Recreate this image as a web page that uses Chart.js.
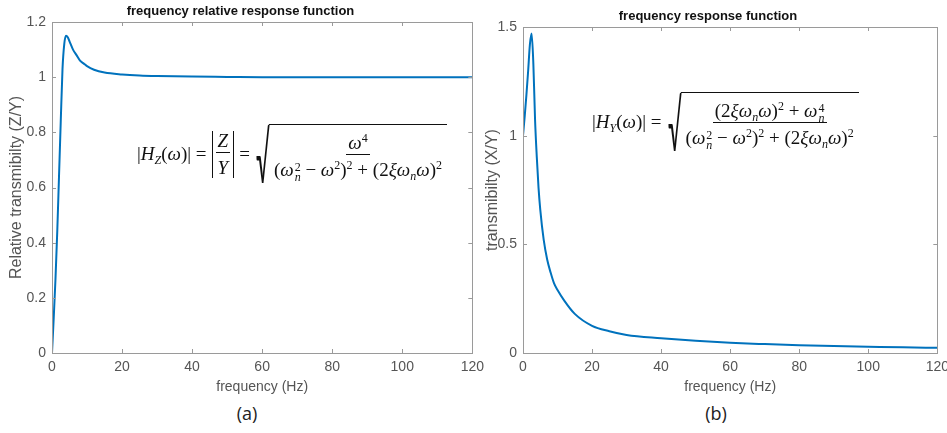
<!DOCTYPE html>
<html>
<head>
<meta charset="utf-8">
<script src="https://cdn.jsdelivr.net/npm/chart.js@4.4.1/dist/chart.umd.min.js"></script>
<style>
  html, body { margin: 0; padding: 0; background: #fff; }
  body { width: 947px; height: 433px; position: relative; overflow: hidden; }
  .box { position: absolute; top: 0; height: 400px; }
  .eq { position: absolute; font-family: "Liberation Serif", "DejaVu Serif", serif; font-size: 19px; color: #111;
        display: flex; align-items: center; white-space: nowrap; }
  .eq i { font-style: italic; }
  .frac { display: inline-flex; flex-direction: column; align-items: center; margin: 0 2px; }
  .frac > span { padding: 0 2px; line-height: 20px; height: 20px; }
  .frac > span:first-child { border-bottom: 1px solid #111; padding-bottom: 1px; }
  .frac > span:last-child { padding-top: 5px; }
  .abs { display: inline-flex; border-left: 1px solid #111; border-right: 1px solid #111; padding: 0 1px; margin: 0 5px; }
  .ss { display: inline-flex; flex-direction: column; font-size: 12px; line-height: 10px; vertical-align: middle; margin-left: 1px; }
  .sub { font-size: 12px; vertical-align: -4px; line-height: 0; }
  .sup { font-size: 12px; vertical-align: 7px; line-height: 0; }
  .root { position: relative; display: inline-flex; padding-left: 13px; margin-left: 6px; }
  .rt { border-top: 1px solid #111; padding: 7px 1px 4px 1px; }
  .rad { position: absolute; left: 0; top: -1px; font-family: "Lato", "DejaVu Sans", sans-serif; font-weight: 400;
         font-size: 40px; line-height: 40px; transform-origin: 0 0; transform: scale(0.55, 1.7); }
  .tag { position: absolute; font-family: "Open Sans", "Liberation Sans", sans-serif; font-size: 18px; color: #222; transform: translate(-50%, -50%); }
</style>
</head>
<body>
<div class="box" style="left:0; width:490px;"><canvas id="chartA"></canvas></div>
<div class="box" style="left:470px; width:485px;"><canvas id="chartB"></canvas></div>

<div class="eq" style="left:137px; top:124px;">
  <span>|<i>H</i><span class="sub"><i>Z</i></span>(<i>ω</i>)| =</span>
  <span class="abs"><span class="frac"><span><i>Z</i></span><span><i>Y</i></span></span></span>
  <span>=</span>
  <span class="root"><span class="rad">√</span><span class="rt"><span class="frac"><span><i>ω</i><span class="sup">4</span></span><span>(<i>ω</i><span class="ss"><span>2</span><i>n</i></span> − <i>ω</i><span class="sup">2</span>)<span class="sup">2</span> + (2<i>ξω</i><span class="sub"><i>n</i></span><i>ω</i>)<span class="sup">2</span></span></span></span></span>
</div>

<div class="eq" style="left:592px; top:92px;">
  <span>|<i>H</i><span class="sub"><i>Y</i></span>(<i>ω</i>)| =</span>
  <span class="root"><span class="rad">√</span><span class="rt"><span class="frac"><span>(2<i>ξω</i><span class="sub"><i>n</i></span><i>ω</i>)<span class="sup">2</span> + <i>ω</i><span class="ss"><span>4</span><i>n</i></span></span><span>(<i>ω</i><span class="ss"><span>2</span><i>n</i></span> − <i>ω</i><span class="sup">2</span>)<span class="sup">2</span> + (2<i>ξω</i><span class="sub"><i>n</i></span><i>ω</i>)<span class="sup">2</span></span></span></span></span>
</div>

<div class="tag" style="left:247px; top:413px;">(a)</div>
<div class="tag" style="left:716px; top:413px;">(b)</div>

<script>
// values
const freqA = [0, 0.5, 1, 1.5, 2, 2.5, 3, 3.5, 4, 4.5, 5, 6, 7, 8, 9, 10, 12, 15, 20, 25, 30, 40, 50, 60, 80, 100, 120];
const relResp = [0, 0.13, 0.27, 0.44, 0.64, 0.84, 1.03, 1.12, 1.15, 1.145, 1.13, 1.10, 1.08, 1.06, 1.05, 1.04, 1.027, 1.017, 1.01, 1.006, 1.004, 1.002, 1.001, 1.0, 1.0, 1.0, 1.0];

const freqB = [0, 0.5, 1, 1.5, 2, 2.5, 3, 3.5, 4, 4.5, 5, 6, 7, 8, 9, 10, 12, 15, 20, 25, 30, 40, 50, 60, 70, 80, 90, 100, 110, 120];
const absResp = [1.0, 1.09, 1.19, 1.30, 1.42, 1.47, 1.33, 1.07, 0.9, 0.76, 0.66, 0.52, 0.43, 0.37, 0.32, 0.29, 0.24, 0.18, 0.125, 0.1, 0.083, 0.068, 0.056, 0.047, 0.041, 0.036, 0.032, 0.029, 0.026, 0.024];

const xTicks = [0, 20, 40, 60, 80, 100, 120];
const yTicksA = [0, 0.2, 0.4, 0.6, 0.8, 1, 1.2];
const yTicksB = [0, 0.5, 1, 1.5];

const lineColor = '#0072BD';
const axisColor = '#9a9a9a';
const textColor = '#555555';

// matlab style box with inward ticks
const boxTicks = {
  id: 'boxTicks',
  afterDatasetsDraw(chart) {
    const { ctx, chartArea: a, scales: { x, y } } = chart;
    ctx.save();
    ctx.strokeStyle = axisColor;
    ctx.lineWidth = 1;
    ctx.strokeRect(Math.round(a.left) + 0.5, Math.round(a.top) + 0.5, Math.round(a.right - a.left), Math.round(a.bottom - a.top));
    ctx.beginPath();
    x.ticks.forEach(t => {
      const px = Math.round(x.getPixelForValue(t.value)) + 0.5;
      ctx.moveTo(px, a.bottom); ctx.lineTo(px, a.bottom - 4);
      ctx.moveTo(px, a.top); ctx.lineTo(px, a.top + 4);
    });
    y.ticks.forEach(t => {
      const py = Math.round(y.getPixelForValue(t.value)) + 0.5;
      ctx.moveTo(a.left, py); ctx.lineTo(a.left + 4, py);
      ctx.moveTo(a.right, py); ctx.lineTo(a.right - 4, py);
    });
    ctx.stroke();
    ctx.restore();
  }
};

function makeChart(id, xs, ys, yMax, yTicks, title, yTitle, titleTop, yWidth, yTitlePad) {
  const ctx = document.getElementById(id).getContext('2d');
  return new Chart(ctx, {
    type: 'line',
    data: {
      datasets: [{
        data: xs.map((f, i) => ({ x: f, y: ys[i] })),
        borderColor: lineColor,
        borderWidth: 2,
        pointRadius: 0,
        fill: false,
        cubicInterpolationMode: 'monotone'
      }]
    },
    options: {
      responsive: true,
      maintainAspectRatio: false,
      animation: false,
      layout: { padding: { left: 0, right: 9, top: 0, bottom: 0 } },
      scales: {
        x: {
          type: 'linear',
          min: 0,
          max: 120,
          afterBuildTicks: s => { s.ticks = xTicks.map(v => ({ value: v })); },
          afterFit: s => { s.height = 47; },
          grid: { display: false, drawTicks: false },
          border: { display: false },
          ticks: { color: textColor, padding: 6, font: { family: 'Liberation Sans', size: 14 } },
          title: {
            display: true,
            text: 'frequency (Hz)',
            color: textColor,
            font: { family: 'Liberation Sans', size: 14 },
            padding: { top: 0, bottom: 4 }
          }
        },
        y: {
          type: 'linear',
          min: 0,
          max: yMax,
          afterBuildTicks: s => { s.ticks = yTicks.map(v => ({ value: v })); },
          afterFit: s => { s.width = yWidth; },
          grid: { display: false, drawTicks: false },
          border: { display: false },
          ticks: {
            color: textColor,
            padding: 6,
            font: { family: 'Liberation Sans', size: 14 },
            callback: v => String(v)
          },
          title: {
            display: true,
            text: yTitle,
            color: textColor,
            font: { family: 'Liberation Sans', size: 16 },
            padding: { top: yTitlePad, bottom: 0 }
          }
        }
      },
      plugins: {
        legend: { display: false },
        tooltip: { enabled: false },
        title: {
          display: true,
          text: title,
          color: '#111',
          font: { family: 'Liberation Sans', size: 13, weight: 'bold' },
          padding: { top: titleTop, bottom: 2.4 }
        }
      }
    },
    plugins: [boxTicks]
  });
}

makeChart('chartA', freqA, relResp, 1.2, yTicksA, 'frequency relative response function', 'Relative transmibilty (Z/Y)', 4, 52, 7);
makeChart('chartB', freqB, absResp, 1.5, yTicksB, 'frequency response function', 'transmibilty (X/Y)', 9, 53, 13);
</script>
</body>
</html>
